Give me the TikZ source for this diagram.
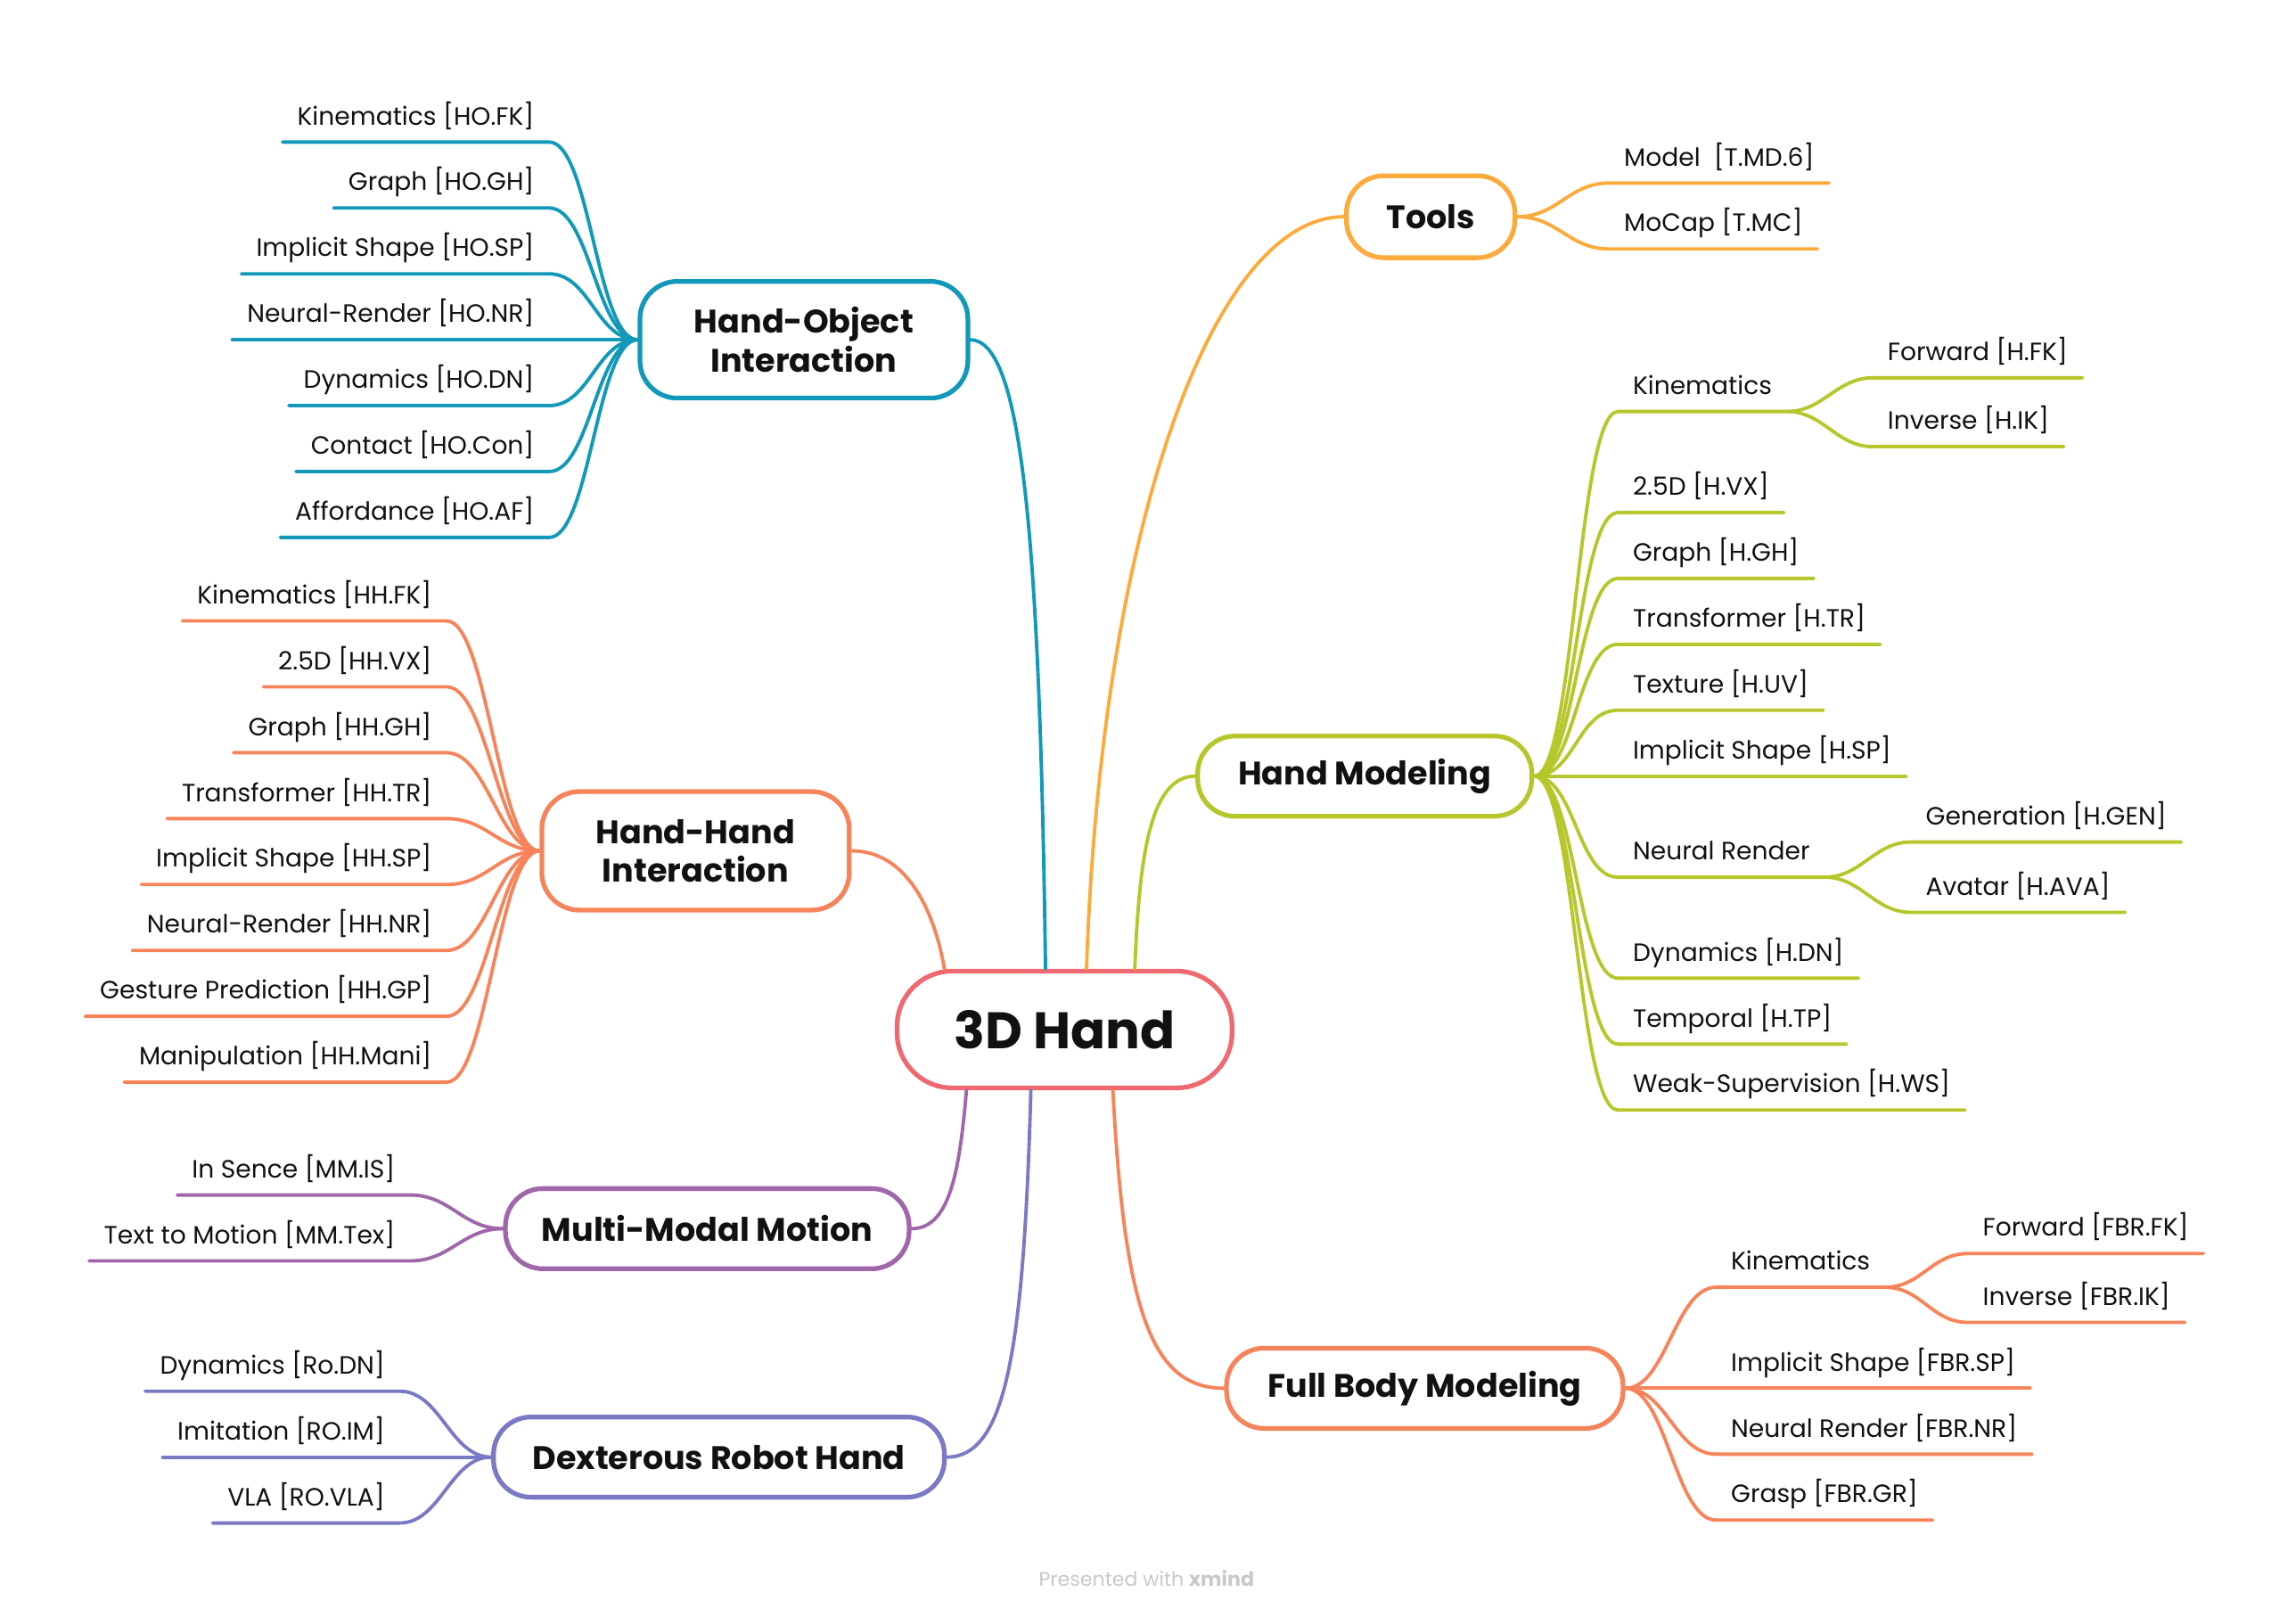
\documentclass[tikz,border=0pt]{standalone}
\usepackage{fontspec}
\setmainfont{Poppins}
\usepackage{tikz}
\definecolor{rootRed}{HTML}{EE6A70}
\definecolor{hoTeal}{HTML}{1298B8}
\definecolor{tlOrange}{HTML}{FBAB3C}
\definecolor{hmGreen}{HTML}{B6C72C}
\definecolor{hhCoral}{HTML}{F6845A}
\definecolor{mmPurple}{HTML}{A066AA}
\definecolor{drIndigo}{HTML}{7A7AC4}
\definecolor{inkBlack}{HTML}{111111}
\definecolor{markGray}{HTML}{C8C8C8}

\begin{document}
\begin{tikzpicture}[x=0.016429cm,y=-0.016429cm,line cap=round,
    every node/.style={text=inkBlack},
    central/.style={draw=rootRed,line width=1.5pt,fill=white,rounded corners=0.62cm,minimum width=3.76cm,minimum height=1.31cm,font=\fontsize{16.4}{18}\selectfont\bfseries},
    topic/.style={draw=#1,line width=1.5pt,fill=white,rounded corners=0.42cm,minimum height=0.9cm,inner xsep=0.2cm,align=center,font=\fontsize{10.4}{12.4}\selectfont\bfseries},
    leafL/.style={anchor=south east,inner xsep=0.16cm,inner ysep=3.3pt,text depth=2pt,font=\fontsize{8}{9}\selectfont},
    leafR/.style={leafL,anchor=south west},
    twig/.style={draw=#1,line width=1.1pt}]

  \useasboundingbox (0,0) rectangle (1568,1104);

  % centre and main topics
  \node[central] (root) at (727,703) {3D Hand};
  \node[topic=hoTeal,minimum width=3.68cm,minimum height=1.31cm] (ho) at (549,232) {Hand-Object\\Interaction};
  \node[topic=hhCoral,minimum width=3.45cm,minimum height=1.33cm] (hh) at (475,581) {Hand-Hand\\Interaction};
  \node[topic=tlOrange,minimum width=1.89cm,minimum height=0.92cm] (tl) at (977,148) {Tools};
  \node[topic=hmGreen,minimum width=3.75cm] (hm) at (932,530) {Hand Modeling};
  \node[topic=mmPurple,minimum width=4.53cm] (mm) at (483,839) {Multi-Modal Motion};
  \node[topic=drIndigo,minimum width=5.06cm] (dr) at (491,995) {Dexterous Robot Hand};
  \node[topic=hhCoral,minimum width=4.45cm] (fb) at (973,948) {Full Body Modeling};

  % hand-object
  \node[leafL] (hoFK) at (375,97) {Kinematics [HO.FK]};
  \node[leafL] (hoGH) at (375,142) {Graph [HO.GH]};
  \node[leafL] (hoSP) at (375,187) {Implicit Shape [HO.SP]};
  \node[leafL] (hoNR) at (375,232) {Neural-Render [HO.NR]};
  \node[leafL] (hoDN) at (375,277) {Dynamics [HO.DN]};
  \node[leafL] (hoCon) at (375,322) {Contact [HO.Con]};
  \node[leafL] (hoAF) at (375,367) {Affordance [HO.AF]};

  % hand-hand
  \node[leafL] (hhFK) at (305,424) {Kinematics [HH.FK]};
  \node[leafL] (hhVX) at (305,469) {2.5D [HH.VX]};
  \node[leafL] (hhGH) at (305,514) {Graph [HH.GH]};
  \node[leafL] (hhTR) at (305,559) {Transformer [HH.TR]};
  \node[leafL] (hhSP) at (305,604) {Implicit Shape [HH.SP]};
  \node[leafL] (hhNR) at (305,649) {Neural-Render [HH.NR]};
  \node[leafL] (hhGP) at (305,694) {Gesture Prediction [HH.GP]};
  \node[leafL] (hhMani) at (305,739) {Manipulation [HH.Mani]};

  % multi-modal and robot
  \node[leafL] (mmIS) at (280,816) {In Sence [MM.IS]};
  \node[leafL] (mmTex) at (280,861) {Text to Motion [MM.Tex]};
  \node[leafL] (drDN) at (273,950) {Dynamics [Ro.DN]};
  \node[leafL] (drIM) at (273,995) {Imitation [RO.IM]};
  \node[leafL] (drVLA) at (273,1040) {VLA [RO.VLA]};

  % tools
  \node[leafR] (tlMD) at (1099,125) {Model\ \ [T.MD.6]};
  \node[leafR] (tlMC) at (1099,170) {MoCap [T.MC]};

  % hand modeling
  \node[leafR] (hmKin) at (1105,281) {Kinematics};
  \node[leafR] (hmFK) at (1279,258) {Forward [H.FK]};
  \node[leafR] (hmIK) at (1279,305) {Inverse [H.IK]};
  \node[leafR] (hmVX) at (1105,350) {2.5D [H.VX]};
  \node[leafR] (hmGH) at (1105,395) {Graph [H.GH]};
  \node[leafR] (hmTR) at (1105,440) {Transformer [H.TR]};
  \node[leafR] (hmUV) at (1105,485) {Texture [H.UV]};
  \node[leafR] (hmSP) at (1105,530) {Implicit Shape [H.SP]};
  \node[leafR] (hmNR) at (1105,599) {Neural Render};
  \node[leafR] (hmGEN) at (1305,575) {Generation [H.GEN]};
  \node[leafR] (hmAVA) at (1305,623) {Avatar [H.AVA]};
  \node[leafR] (hmDN) at (1105,668) {Dynamics [H.DN]};
  \node[leafR] (hmTP) at (1105,713) {Temporal [H.TP]};
  \node[leafR] (hmWS) at (1105,758) {Weak-Supervision [H.WS]};

  % full body
  \node[leafR] (fbKin) at (1172,879) {Kinematics};
  \node[leafR] (fbFK) at (1344,856) {Forward [FBR.FK]};
  \node[leafR] (fbIK) at (1344,903) {Inverse [FBR.IK]};
  \node[leafR] (fbSP) at (1172,948) {Implicit Shape [FBR.SP]};
  \node[leafR] (fbNR) at (1172,993) {Neural Render [FBR.NR]};
  \node[leafR] (fbGR) at (1172,1038) {Grasp [FBR.GR]};

  \node[font=\fontsize{6.3}{7}\selectfont,text=markGray] (credit) at (783,1078) {Presented with \textbf{xmind}};

  % centre to topics
  \draw[twig=hoTeal] (root.north) ++(-13,0) .. controls +(-4,-300) and +(35,0) .. (ho.east);
  \draw[twig=hhCoral] (root.north) ++(-82,0) .. controls +(-8,-45) and +(35,0) .. (hh.east);
  \draw[twig=tlOrange] (root.north) ++(15,0) .. controls +(10,-300) and +(-90,0) .. (tl.west);
  \draw[twig=hmGreen] (root.north) ++(48,0) .. controls +(3,-80) and +(-30,0) .. (hm.west);
  \draw[twig=mmPurple] (root.south) ++(-67,0) .. controls +(-5,60) and +(25,0) .. (mm.east);
  \draw[twig=drIndigo] (root.south) ++(-23,0) .. controls +(-5,180) and +(40,0) .. (dr.east);
  \draw[twig=hhCoral] (root.south) ++(33,0) .. controls +(8,150) and +(-50,0) .. (fb.west);

  % topics to leaves
  \foreach \leaf in {hoFK,hoGH,hoSP,hoNR,hoDN,hoCon,hoAF}
    \draw[twig=hoTeal] (ho.west) .. controls +(-28,0) and +(28,0) .. (\leaf.south east) -- (\leaf.south west);
  \foreach \leaf in {hhFK,hhVX,hhGH,hhTR,hhSP,hhNR,hhGP,hhMani}
    \draw[twig=hhCoral] (hh.west) .. controls +(-28,0) and +(28,0) .. (\leaf.south east) -- (\leaf.south west);
  \foreach \leaf in {mmIS,mmTex}
    \draw[twig=mmPurple] (mm.west) .. controls +(-28,0) and +(28,0) .. (\leaf.south east) -- (\leaf.south west);
  \foreach \leaf in {drDN,drIM,drVLA}
    \draw[twig=drIndigo] (dr.west) .. controls +(-28,0) and +(28,0) .. (\leaf.south east) -- (\leaf.south west);
  \foreach \leaf in {tlMD,tlMC}
    \draw[twig=tlOrange] (tl.east) .. controls +(28,0) and +(-28,0) .. (\leaf.south west) -- (\leaf.south east);
  \foreach \leaf in {hmKin,hmVX,hmGH,hmTR,hmUV,hmSP,hmNR,hmDN,hmTP,hmWS}
    \draw[twig=hmGreen] (hm.east) .. controls +(28,0) and +(-28,0) .. (\leaf.south west) -- (\leaf.south east);
  \foreach \leaf in {hmFK,hmIK}
    \draw[twig=hmGreen] (hmKin.south east) .. controls +(25,0) and +(-25,0) .. (\leaf.south west) -- (\leaf.south east);
  \foreach \leaf in {hmGEN,hmAVA}
    \draw[twig=hmGreen] (hmNR.south east) .. controls +(25,0) and +(-25,0) .. (\leaf.south west) -- (\leaf.south east);
  \foreach \leaf in {fbKin,fbSP,fbNR,fbGR}
    \draw[twig=hhCoral] (fb.east) .. controls +(28,0) and +(-28,0) .. (\leaf.south west) -- (\leaf.south east);
  \foreach \leaf in {fbFK,fbIK}
    \draw[twig=hhCoral] (fbKin.south east) .. controls +(25,0) and +(-25,0) .. (\leaf.south west) -- (\leaf.south east);
\end{tikzpicture}
\end{document}
